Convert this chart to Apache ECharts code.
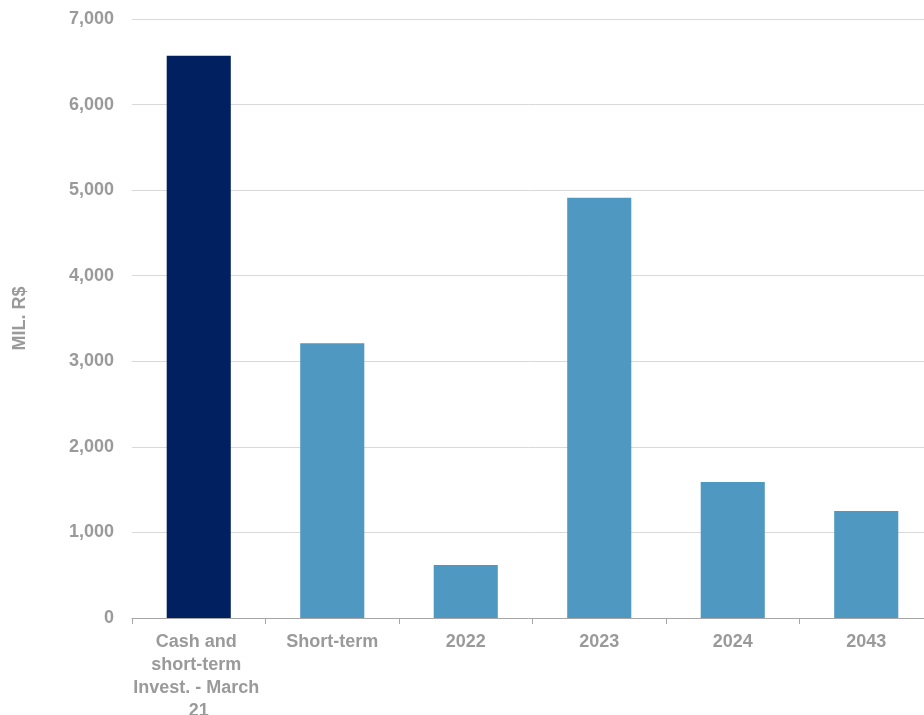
<!DOCTYPE html>
<html>
<head>
<meta charset="utf-8">
<script src="https://cdn.jsdelivr.net/npm/echarts@6/dist/echarts.min.js"></script>
<style>html,body{margin:0;padding:0;background:#fff}#c{width:924px;height:715px}</style>
</head>
<body>
<div id="c"></div>
<script>
const categories = ["Cash and short-term Invest. - March 21", "Short-term", "2022", "2023", "2024", "2043"];
const values = [6570, 3210, 620, 4910, 1590, 1250];
const barColors = ["#002060", "#4F98C2", "#4F98C2", "#4F98C2", "#4F98C2", "#4F98C2"];
const yTicks = [0, 1000, 2000, 3000, 4000, 5000, 6000, 7000];

const chart = echarts.init(document.getElementById('c'), null, {renderer: 'canvas'});
const font = 'Liberation Sans, Arial, sans-serif';
chart.setOption({
  animation: false,
  grid: {left: 132, width: 801, top: 19, bottom: 97, containLabel: false, outerBoundsMode: 'none'},
  xAxis: {
    type: 'category',
    data: categories,
    axisLine: {show: true, lineStyle: {color: '#A6A6A6', width: 1}},
    axisTick: {show: true, length: 6, alignWithLabel: false, lineStyle: {color: '#A6A6A6'}},
    axisLabel: {
      color: '#9A9A9A', fontFamily: font, fontWeight: 'bold', fontSize: 18,
      margin: 13, lineHeight: 23, width: 132, overflow: 'break', interval: 0, align: 'center'
    }
  },
  yAxis: {
    type: 'value',
    min: yTicks[0], max: yTicks[yTicks.length - 1], interval: 1000,
    name: 'MIL. R$', nameLocation: 'middle', nameGap: 103, nameRotate: 90,
    nameTextStyle: {color: '#9A9A9A', fontFamily: font, fontWeight: 'bold', fontSize: 18},
    axisLine: {show: false}, axisTick: {show: false},
    axisLabel: {
      color: '#9A9A9A', fontFamily: font, fontWeight: 'bold', fontSize: 18, margin: 18,
      formatter: v => v.toLocaleString('en-US')
    },
    splitLine: {lineStyle: {color: '#D9D9D9', width: 1}}
  },
  series: [{
    type: 'bar',
    data: values.map((v, i) => ({value: v, itemStyle: {color: barColors[i]}})),
    barWidth: '48%'
  }]
});
</script>
</body>
</html>
